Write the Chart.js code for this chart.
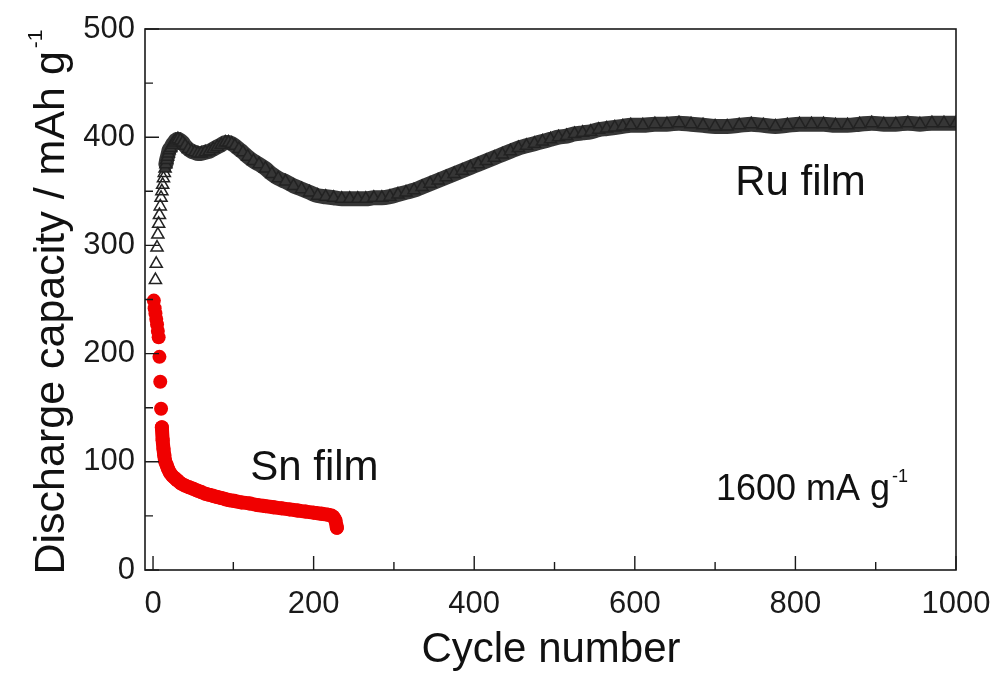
<!DOCTYPE html>
<html><head><meta charset="utf-8">
<script src="https://cdn.jsdelivr.net/npm/chart.js@4"></script>
<style>html,body{margin:0;padding:0;background:#fff;}canvas{display:block;}</style>
</head><body>
<canvas id="c" width="997" height="673"></canvas>
<script>
// ---- data ----
const xTicks = [0, 200, 400, 600, 800, 1000];
const xMinorTicks = [100, 300, 500, 700, 900];
const yTicks = [0, 100, 200, 300, 400, 500];
const yMinorTicks = [50, 150, 250, 350, 450];

const ruCycles = [3,4,5,6,7,8,9,10,11,12,13,14,15,16,17,18,19,20,22,24,26,28,31,34,37,40,44,48,52,56,60,65,70,75,80,85,90,94,98,102,107,112,118,125,132,140,148,156,165,175,185,195,205,215,225,235,245,255,265,275,285,295,305,315,325,335,345,355,365,375,385,395,405,415,425,435,445,455,465,475,485,495,505,515,525,535,545,555,565,575,585,595,610,625,640,655,670,685,700,715,730,745,760,775,790,805,820,835,850,865,880,895,910,925,940,955,970,985,1000];
const ruCapacity = [268,283,298,310,320,328,336,344,350,356,362,367,371,375,379,382,385,388,390,393,395,397,398,397,395,392,389,387,386,385,385,386,387,389,391,393,395,395,394,392,389,386,382,378,375,371,366,362,359,355,352,349,346,345,344,343,343,343,343,344,344,345,347,349,351,354,357,360,363,366,369,372,375,378,381,384,387,390,392,394,396,398,400,401,403,404,405,407,408,409,410,411,411,412,412,413,412,411,410,410,411,412,411,410,411,412,412,412,411,411,412,413,412,412,413,412,413,413,413];

const snCycles = [1,2,3,4,5,6,7,8,9,10,11,12,13,14,15,17,19,21,24,27,30,35,40,45,50,55,60,65,70,75,80,85,90,95,100,110,120,130,140,150,160,170,180,190,200,210,218,224,227,229];
const snCapacity = [249,242,237,232,227,221,215,197,174,149,132,120,112,106,101,97,93,90,87,85,83,80,78,76.5,75,73.5,72,70.5,69.5,68.5,67.5,66.5,65.5,64.5,64,62.5,61.5,60,59,58,57,56,55,54,53,52,51,49.5,46,39];

const annotations = [
  { text: 'Sn film', x: 121, y: 83, size: 42 },
  { text: 'Ru film', x: 725, y: 346.6, size: 42 },
  { text: '1600 mA g', sup: '-1', x: 701, y: 64.7, size: 36 }
];

const FONT = "'Liberation Sans', Arial, Helvetica, sans-serif";
const RED = '#f00000';
const DARK = '#363636';

const frame = {
  id: 'frame',
  afterDatasetsDraw(chart) {
    const { ctx, chartArea: a, scales: { x, y } } = chart;
    ctx.save();
    ctx.strokeStyle = '#1a1a1a';
    ctx.lineWidth = 1.6;
    ctx.strokeRect(a.left, a.top, a.right - a.left, a.bottom - a.top);
    ctx.lineWidth = 1.4;
    ctx.beginPath();
    xTicks.forEach(v => { const px = x.getPixelForValue(v); ctx.moveTo(px, a.bottom); ctx.lineTo(px, a.bottom - 14); });
    xMinorTicks.forEach(v => { const px = x.getPixelForValue(v); ctx.moveTo(px, a.bottom); ctx.lineTo(px, a.bottom - 8); });
    yTicks.forEach(v => { const py = y.getPixelForValue(v); ctx.moveTo(a.left, py); ctx.lineTo(a.left + 14, py); });
    yMinorTicks.forEach(v => { const py = y.getPixelForValue(v); ctx.moveTo(a.left, py); ctx.lineTo(a.left + 8, py); });
    ctx.stroke();
    ctx.restore();
  },
  afterDraw(chart) {
    const { ctx, scales: { x, y } } = chart;
    ctx.save();
    ctx.fillStyle = '#111';
    ctx.textBaseline = 'alphabetic';
    ctx.textAlign = 'left';
    annotations.forEach(an => {
      ctx.font = an.size + 'px ' + FONT;
      const px = x.getPixelForValue(an.x), py = y.getPixelForValue(an.y);
      ctx.fillText(an.text, px, py);
      if (an.sup) {
        const w = ctx.measureText(an.text).width;
        ctx.font = Math.round(an.size * 0.5) + 'px ' + FONT;
        ctx.fillText(an.sup, px + w + 2, py - an.size * 0.5);
      }
    });
    // x-axis title
    ctx.font = '42px ' + FONT;
    ctx.textAlign = 'center';
    ctx.fillText('Cycle number', 551, 662);
    // y-axis title (rotated) with superscript
    ctx.translate(64, 302);
    ctx.rotate(-Math.PI / 2);
    const main = 'Discharge capacity / mAh g';
    ctx.font = '43px ' + FONT;
    const mw = ctx.measureText(main).width;
    ctx.font = '21px ' + FONT;
    const sw = ctx.measureText('-1').width;
    const start = -(mw + sw + 3) / 2;
    ctx.textAlign = 'left';
    ctx.font = '43px ' + FONT;
    ctx.fillText(main, start, 0);
    ctx.font = '21px ' + FONT;
    ctx.fillText('-1', start + mw + 3, -22);
    ctx.restore();
  }
};

new Chart(document.getElementById('c'), {
  type: 'scatter',
  data: {
    datasets: [
      {
        label: 'Sn film',
        data: snCycles.map((c, i) => ({ x: c, y: snCapacity[i] })),
        pointStyle: 'circle',
        pointRadius: 7,
        pointBackgroundColor: RED,
        pointBorderColor: RED,
        pointBorderWidth: 0,
        showLine: true,
        borderWidth: 14,
        borderColor: RED,
        borderJoinStyle: 'round',
        borderCapStyle: 'round',
        cubicInterpolationMode: 'monotone',
        segment: { borderColor: c => c.p0.parsed.x < 11 ? 'rgba(0,0,0,0)' : RED }
      },
      {
        label: 'Ru film',
        data: ruCycles.map((c, i) => ({ x: c, y: ruCapacity[i] })),
        pointStyle: 'triangle',
        pointRadius: 7,
        pointBackgroundColor: c => (c.raw && c.raw.x < 15) ? 'rgba(255,255,255,0)' : DARK,
        pointBorderColor: '#222',
        pointBorderWidth: 1.5,
        showLine: true,
        borderWidth: 15,
        borderColor: DARK,
        borderJoinStyle: 'round',
        borderCapStyle: 'round',
        cubicInterpolationMode: 'monotone',
        segment: { borderColor: c => c.p0.parsed.x < 16 ? 'rgba(0,0,0,0)' : DARK }
      }
    ]
  },
  options: {
    responsive: false,
    animation: false,
    devicePixelRatio: 1,
    layout: { padding: { top: 29, right: 41, bottom: 0, left: 0 } },
    plugins: { legend: { display: false }, tooltip: { enabled: false } },
    scales: {
      x: {
        type: 'linear', min: -10, max: 1000,
        grid: { display: false, drawTicks: false },
        border: { display: false },
        ticks: { font: { family: FONT, size: 31 }, color: '#1a1a1a', padding: 16, maxRotation: 0, autoSkip: false, callback: v => String(v) },
        afterBuildTicks: s => { s.ticks = xTicks.map(v => ({ value: v })); },
        afterFit: s => { s.height = 103; s.paddingLeft = 0; s.paddingRight = 0; }
      },
      y: {
        type: 'linear', min: 0, max: 500,
        grid: { display: false, drawTicks: false },
        border: { display: false },
        ticks: { font: { family: FONT, size: 31 }, color: '#1a1a1a', padding: 10, autoSkip: false, callback: v => String(v) },
        afterBuildTicks: s => { s.ticks = yTicks.map(v => ({ value: v })); },
        afterFit: s => { s.width = 145; s.paddingTop = 0; s.paddingBottom = 0; }
      }
    }
  },
  plugins: [frame]
});
</script>
</body></html>
